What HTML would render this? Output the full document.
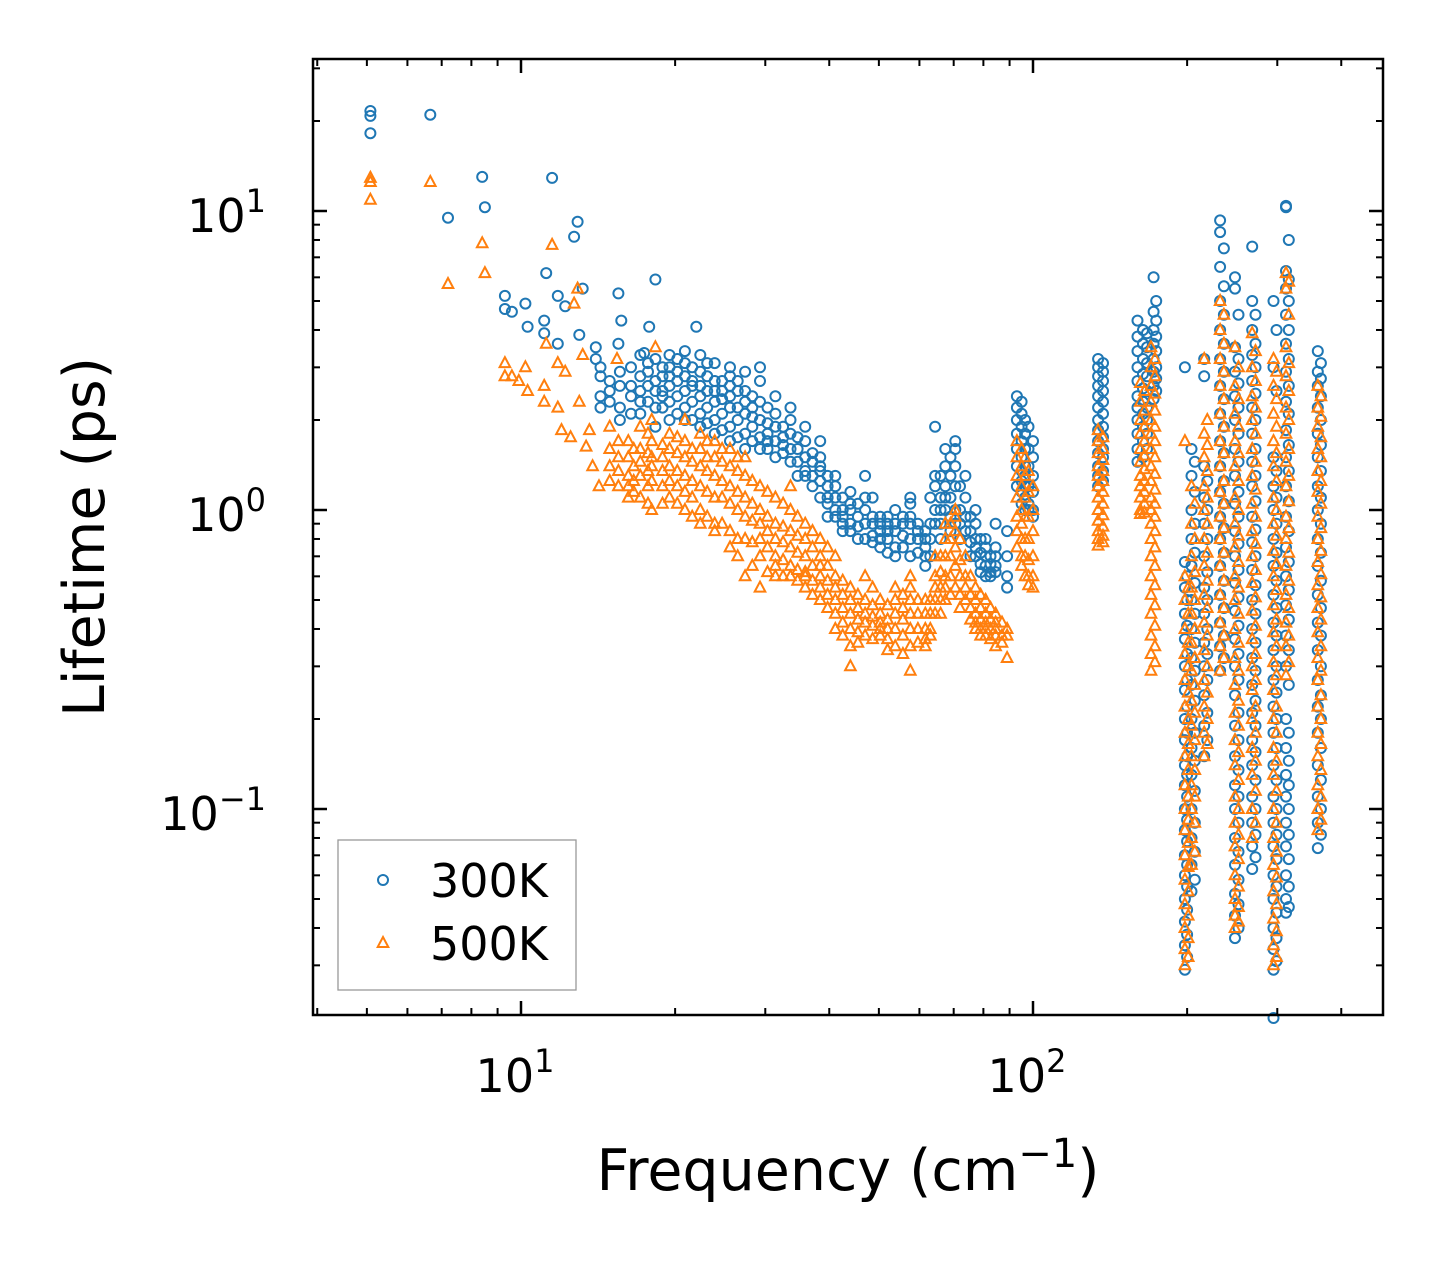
<!DOCTYPE html>
<html><head><meta charset="utf-8">
<style>
html,body{margin:0;padding:0;background:#fff;}
svg{display:block;font-family:"DejaVu Sans","Liberation Sans",sans-serif;}
</style></head>
<body>
<svg id="chart" width="1442" height="1265" viewBox="0 0 1442 1265" xmlns="http://www.w3.org/2000/svg">
<rect x="0" y="0" width="1442" height="1265" fill="#fff"/>
<g id="marks"></g>
<g id="ticks"></g>
<rect x="313" y="59" width="1070" height="956" fill="none" stroke="#000" stroke-width="2.5"/>
<g font-size="46">
<text x="515" y="1092" text-anchor="middle">10<tspan dy="-20" font-size="32">1</tspan></text>
<text x="1027" y="1092" text-anchor="middle">10<tspan dy="-20" font-size="32">2</tspan></text>
</g>
<g font-size="46">
<text x="266" y="232" text-anchor="end">10<tspan dy="-20" font-size="32">1</tspan></text>
<text x="266" y="531" text-anchor="end">10<tspan dy="-20" font-size="32">0</tspan></text>
<text x="266" y="830" text-anchor="end">10<tspan dy="-20" font-size="32">−1</tspan></text>
</g>
<text x="848" y="1190" text-anchor="middle" font-size="57">Frequency (cm<tspan dy="-23" font-size="40">−1</tspan><tspan dy="23">)</tspan></text>
<text transform="translate(104,537) rotate(-90)" text-anchor="middle" font-size="57">Lifetime (ps)</text>
<g>
<rect x="338" y="840" width="238" height="150" fill="#fff" stroke="#999" stroke-width="1.3"/>
<g>
<circle cx="383" cy="880" r="5" fill="none" stroke="#1f77b4" stroke-width="2"/>
<text x="430" y="897" font-size="46">300K</text>
</g>
<g>
<polygon points="383,937 388.3,947 377.7,947" fill="none" stroke="#ff7f0e" stroke-width="2"/>
<text x="430" y="960" font-size="46">500K</text>
</g>
</g>
</svg>
<script>
const xMajorTicks = [10, 100];
const xMinorTicks = [4,5,6,7,8,9,20,30,40,50,60,70,80,90,200,300,400];
const yMajorTicks = [0.1, 1, 10];
const yMinorTicks = [0.03,0.04,0.05,0.06,0.07,0.08,0.09,0.2,0.3,0.4,0.5,0.6,0.7,0.8,0.9,2,3,4,5,6,7,8,9,20,30];

// 300K series: [frequency, [lifetimes...]]
const series300K = [
[5.08,[21.6,20.8,18.2]],[6.65,[21]],[7.2,[9.5]],[8.4,[13]],[8.5,[10.3]],[11.5,[12.9]],[12.9,[9.2]],[12.7,[8.2]],[11.2,[6.2]],
[9.3,[5.2,4.7]],[9.6,[4.6]],[10.2,[4.9]],[10.3,[4.1]],[11.1,[4.3,3.9]],[11.8,[5.2,3.6]],[12.2,[4.8]],[13.0,[3.85]],[13.2,[5.5]],[14.0,[3.5,3.2]],
[15.5,[5.3,3.6]],[15.7,[4.3]],[18.3,[5.9]],[22,[4.1]],[17.8,[4.1]],[17.4,[3.35]],
[14.3,[2.8,2.4,2.2,3.0]],[15.6,[2.6,2.2,2.0,2.9]],[17.1,[2.5,2.8,2.1,3.3,2.3]],[18.3,[2.7,3.2,2.2,2.5,1.9]],
[19.5,[2.6,3.0,2.3,3.3,2.0,2.8]],[20.9,[2.5,3.1,2.2,3.4,2.0,2.8]],[22.4,[2.4,2.9,2.1,3.3,2.6,1.9]],[23.9,[2.3,2.7,2.0,3.1,2.5,1.8]],
[25.6,[2.2,2.6,1.9,3.0,2.4,1.7,2.8]],[27.4,[2.1,2.5,1.8,2.9,2.3,1.6]],[29.3,[2.0,2.3,1.75,2.7,3.0,1.6]],[31.4,[1.9,2.1,1.7,2.4,1.5]],
[33.6,[1.8,2.0,1.6,1.45,2.2]],[35.9,[1.7,1.9,1.5,1.35,1.3]],[38.4,[1.5,1.7,1.35,1.25,1.4,1.1]],[41.1,[1.3,1.2,1.1,1.0,0.95]],
[44,[1.15,1.05,1.0,0.9,0.85]],[47,[1.1,1.0,0.9,0.8,1.3]],[50.3,[0.95,0.9,0.85,0.8,0.75]],[53.8,[0.9,1.0,0.85,0.75,0.7]],
[57.6,[0.95,1.05,0.9,0.8,0.7,1.1]],[61.6,[0.85,0.8,0.75,0.7,0.65]],[64.4,[1.2,1.0,0.9,1.9,1.3]],[67.4,[1.4,1.2,1.1,1.0,1.6]],
[70.5,[1.6,1.4,1.2,1.0,0.9,1.7]],[73.8,[1.3,1.1,0.95,0.85]],[77.2,[1.0,0.9,0.8,0.75,0.7]],[80.8,[0.8,0.75,0.7,0.65,0.6]],
[84.5,[0.7,0.65,0.62,0.75,0.9]],[89,[0.55,0.6,0.7,0.85]],[93,[2.4,2.2,2.0,1.8,1.6,1.4,1.2]],[96.5,[2.0,1.8,1.6,1.4,1.3,1.2,1.1,1.0]],
[100,[1.7,1.5,1.3,1.15,1.0,0.95]],
[14.9,[2.5,2.7,2.3]],[16.4,[2.4,2.6,3.0,2.1]],[17.7,[2.6,2.9,2.3,3.1]],[18.9,[2.5,2.8,2.2,3.0,2.4]],[20.2,[2.7,2.4,3.2,2.1,2.9]],
[21.6,[2.6,2.3,3.0,2.0,2.7]],[23.1,[2.5,2.2,2.8,1.95,3.1]],[24.7,[2.35,2.1,2.7,1.85,2.5]],[26.5,[2.2,2.0,2.5,1.75,2.7]],
[28.3,[2.05,1.9,2.4,1.7,2.2]],[30.3,[1.95,1.8,2.2,1.6,1.7]],[32.5,[1.75,1.9,1.55,1.65]],[34.7,[1.6,1.75,1.45,1.3]],
[37.1,[1.45,1.55,1.3,1.2]],[39.7,[1.2,1.3,1.1,1.05,0.95]],[42.5,[1.1,1.0,0.95,0.9,0.85]],[45.5,[1.05,0.95,0.88,0.8]],
[48.6,[0.95,0.9,0.82,0.78,1.1]],[52,[0.9,0.85,0.8,0.72,0.95]],[55.7,[0.95,0.9,0.82,0.75]],[59.6,[0.9,0.85,0.8,0.72]],
[63,[0.9,0.8,0.7,1.1]],[66,[1.3,1.1,1.0,0.9,0.8]],[69,[1.5,1.3,1.1,0.95,0.85]],[72,[1.2,1.0,0.9,0.8]],[75.5,[0.95,0.85,0.78,0.7]],
[79,[0.8,0.72,0.66,0.62]],[82.6,[0.7,0.66,0.62,0.6]],[95,[2.3,2.1,1.9,1.7,1.5,1.35,1.25,1.15,1.05]],[98,[1.9,1.6,1.4,1.2,1.05,1.0]],
[134,[3.2,3.0,2.8,2.6,2.4,2.2,2.0,1.85,1.7,1.55,1.4,1.3,1.2]],
[137,[3.1,2.9,2.7,2.5,2.3,2.1,1.9,1.75,1.6,1.5,1.35,1.25]],
[160,[4.3,3.8,3.4,3.0,2.7,2.4,2.2,2.0,1.8,1.6,1.45]],
[164,[4.0,3.6,3.2,2.85,2.55,2.3,2.1,1.9,1.7,1.5]],
[167,[3.9,3.5,3.1,2.8,2.5,2.2,2.0,1.8,1.6]],
[172,[6.0,4.6,4.0,3.6,3.2,2.9,2.6,2.35]],
[174,[5.0,4.3,3.8,3.4,3.0,2.75,2.5]],
[198,[3.0,0.67,0.55,0.45,0.37,0.3,0.25,0.2,0.17,0.14,0.12,0.1,0.085,0.07,0.06,0.05,0.042,0.035,0.029]],
[200,[0.6,0.5,0.41,0.33,0.27,0.22,0.18,0.15,0.13,0.11,0.092,0.078,0.065,0.055,0.046,0.038,0.032]],
[204,[1.6,1.3,1.0,0.8,0.65,0.5,0.4,0.32,0.26,0.2,0.16,0.13,0.1,0.08,0.065,0.053]],
[207,[1.45,1.15,0.9,0.72,0.57,0.45,0.36,0.29,0.23,0.18,0.145,0.115,0.09,0.072,0.058]],
[216,[3.2,2.8,1.4,1.1,0.9,0.7,0.55,0.45,0.36,0.3,0.24,0.19,0.15]],
[219,[1.25,1.0,0.8,0.62,0.5,0.4,0.33,0.27,0.21,0.17]],
[232,[9.3,8.5,6.5,5.0,4.0,3.2,2.6,2.1,1.7,1.4,1.15,0.95,0.8,0.65,0.52,0.42,0.35,0.29]],
[236,[7.5,5.6,4.5,3.6,2.9,2.35,1.9,1.55,1.25,1.05,0.87,0.72,0.58,0.47,0.38,0.32]],
[248,[6.0,5.5,3.5,2.9,2.4,2.0,1.6,1.3,1.05,0.85,0.7,0.57,0.46,0.37,0.3,0.24,0.19,0.15,0.12,0.1,0.08,0.065,0.052,0.044,0.037]],
[252,[4.5,3.2,2.65,2.2,1.8,1.45,1.15,0.95,0.77,0.63,0.51,0.41,0.33,0.27,0.21,0.17,0.135,0.11,0.09,0.072,0.058,0.048,0.04]],
[268,[7.6,5.0,4.0,3.3,2.7,2.2,1.8,1.45,1.2,0.95,0.78,0.63,0.5,0.4,0.32,0.26,0.21,0.17,0.14,0.11,0.09,0.075,0.063]],
[272,[4.5,3.6,3.0,2.45,2.0,1.6,1.3,1.07,0.86,0.7,0.56,0.45,0.36,0.29,0.23,0.19,0.155,0.125,0.1,0.082,0.069]],
[295,[5.0,3.0,1.5,1.2,1.0,0.8,0.65,0.52,0.42,0.34,0.27,0.22,0.18,0.14,0.11,0.09,0.075,0.06,0.05,0.04,0.034,0.029,0.02]],
[299,[4.0,2.5,1.35,1.1,0.9,0.72,0.58,0.47,0.38,0.3,0.245,0.2,0.16,0.125,0.1,0.082,0.068,0.055,0.045,0.037,0.031]],
[312,[10.4,10.3,6.3,5.5,4.5,3.6,2.9,2.3,1.85,1.5,1.2,0.95,0.75,0.6,0.48,0.38,0.3,0.2,0.16,0.13,0.11,0.09,0.075,0.06,0.05,0.045]],
[316,[8.0,5.9,5.0,4.0,3.2,2.6,2.1,1.65,1.35,1.07,0.85,0.67,0.54,0.43,0.34,0.26,0.18,0.145,0.12,0.1,0.082,0.068,0.055,0.047]],
[360,[3.4,2.9,2.6,2.2,1.8,1.5,1.2,1.0,0.8,0.65,0.52,0.42,0.34,0.27,0.22,0.18,0.14,0.11,0.09,0.074]],
[365,[3.1,2.75,2.4,2.0,1.65,1.35,1.1,0.9,0.72,0.58,0.47,0.38,0.3,0.24,0.2,0.16,0.125,0.1,0.082]]
];

// 500K series: [frequency, [lifetimes...]]
const series500K = [
[5.08,[12.9,12.5,10.9]],[6.65,[12.5]],[7.2,[5.7]],[8.4,[7.8]],[8.5,[6.2]],[11.5,[7.7]],
[9.3,[3.1,2.8]],[9.6,[2.8]],[9.9,[2.7]],[10.2,[3.0]],[10.3,[2.5]],[11.1,[2.6,2.3]],[11.2,[3.6]],[11.8,[3.1,2.2]],[12.2,[2.9]],
[12.9,[5.5]],[12.7,[4.9]],[12.0,[1.85]],[12.5,[1.75]],[13.0,[2.3]],[13.2,[3.3]],[13.6,[1.85]],[13.4,[1.63]],[13.8,[1.4]],[14.2,[1.2]],
[15.4,[3.2]],[18.3,[3.5]],[14.9,[1.6,1.4,1.25,1.9]],[16.2,[1.7,1.5,1.3,1.2,1.1]],[17.1,[1.6,1.45,1.3,1.9,1.1]],
[18.0,[1.5,1.4,1.7,1.25,2.0,1.0]],[19.5,[1.6,1.4,1.25,1.8,1.1]],[20.9,[1.5,1.3,1.7,1.15,1.0,2.0]],[22.4,[1.4,1.6,1.2,1.8,1.0,0.9]],
[23.9,[1.3,1.5,1.1,1.7,0.9,0.85]],[25.6,[1.2,1.4,1.05,1.6,0.85,0.75]],[27.4,[1.1,1.3,0.95,1.5,0.8,0.6]],[29.3,[1.0,1.2,0.9,0.8,0.7,0.55]],
[31.4,[0.9,1.1,0.8,0.7,0.65,0.6]],[33.6,[0.85,1.0,0.75,0.65,0.6,1.2]],[35.9,[0.8,0.9,0.7,0.62,0.55,0.6]],[38.4,[0.7,0.6,0.55,0.5,0.8,0.65]],
[41.1,[0.6,0.55,0.5,0.45,0.4,0.7]],[44,[0.55,0.5,0.45,0.4,0.35,0.3]],[47,[0.5,0.45,0.42,0.38,0.6]],[50.3,[0.45,0.42,0.4,0.38,0.5]],
[53.8,[0.5,0.45,0.4,0.35,0.55]],[57.6,[0.55,0.5,0.45,0.4,0.35,0.29,0.6]],[61.6,[0.45,0.4,0.37,0.35,0.5]],[64.4,[0.6,0.55,0.5,0.45,0.7]],
[67.4,[0.8,0.7,0.6,0.55,0.5,0.9]],[70.5,[0.95,0.85,0.75,0.65,0.55,1.0]],[73.8,[0.7,0.6,0.55,0.5]],[77.2,[0.55,0.5,0.45,0.42,0.4]],
[80.8,[0.5,0.45,0.42,0.38,0.4]],[84.5,[0.45,0.42,0.4,0.38,0.35]],[89,[0.4,0.32,0.38]],
[93,[1.7,1.5,1.3,1.1,0.95,0.85,0.75]],[96.5,[1.5,1.3,1.1,0.95,0.8,0.7,0.6]],[100,[1.2,1.0,0.85,0.7,0.6,0.55]],
[15.5,[1.5,1.35,1.2,1.7]],[16.6,[1.6,1.4,1.25,1.15]],[17.7,[1.55,1.35,1.2,1.8,1.05]],[18.9,[1.5,1.35,1.2,1.65,1.05]],
[20.2,[1.55,1.35,1.2,1.75,1.05]],[21.6,[1.45,1.25,1.6,1.1,0.95]],[23.1,[1.35,1.5,1.15,1.7,0.95]],[24.7,[1.25,1.45,1.1,1.6,0.9]],
[26.5,[1.15,1.35,1.0,1.5,0.8,0.7]],[28.3,[1.05,1.25,0.92,0.78,0.65]],[30.3,[0.95,1.15,0.85,0.75,0.62]],[32.5,[0.88,1.05,0.78,0.68,0.6]],
[34.7,[0.82,0.95,0.72,0.63,0.58]],[37.1,[0.75,0.85,0.65,0.58,0.52]],[39.7,[0.65,0.58,0.52,0.47,0.75]],[42.5,[0.58,0.52,0.47,0.42,0.38]],
[45.5,[0.52,0.47,0.43,0.39,0.36]],[48.6,[0.48,0.44,0.41,0.37,0.55]],[52,[0.48,0.43,0.4,0.37,0.34]],[55.7,[0.52,0.47,0.43,0.38,0.33]],
[59.6,[0.5,0.45,0.4,0.36]],[63,[0.5,0.45,0.4,0.38]],[66,[0.7,0.62,0.55,0.5,0.45]],[69,[0.9,0.8,0.7,0.6,0.52]],[72,[0.8,0.68,0.6,0.52,0.47]],
[75.5,[0.6,0.52,0.47,0.43]],[79,[0.52,0.47,0.43,0.4,0.38]],[82.6,[0.47,0.43,0.4,0.37]],[87,[0.42,0.38,0.36]],
[95,[1.6,1.4,1.2,1.0,0.9,0.8,0.7,0.65]],[98,[1.35,1.15,0.95,0.8,0.68,0.6,0.56]],
[134,[1.85,1.7,1.55,1.4,1.3,1.2,1.1,1.0,0.92,0.85,0.8,0.76]],
[137,[1.75,1.6,1.47,1.35,1.25,1.15,1.05,0.96,0.88,0.82,0.78]],
[162,[2.66,2.3,2.0,1.8,1.6,1.45,1.3,1.2,1.1,1.0,0.97]],
[165,[2.5,2.15,1.9,1.7,1.52,1.37,1.25,1.15,1.05,0.98]],
[170,[3.5,3.0,2.6,2.3,2.0,1.8,1.6,1.4,1.25,1.1,1.0,0.9,0.8,0.7,0.6,0.52,0.45,0.38,0.33,0.29]],
[173,[3.2,2.8,2.45,2.15,1.9,1.7,1.5,1.32,1.17,1.05,0.95,0.85,0.75,0.65,0.56,0.48,0.41,0.35,0.31]],
[198,[1.7,0.6,0.5,0.4,0.33,0.27,0.22,0.18,0.15,0.12,0.1,0.085,0.07,0.058,0.048,0.04,0.034,0.03]],
[201,[0.55,0.45,0.36,0.3,0.245,0.2,0.165,0.135,0.11,0.092,0.077,0.064,0.053,0.044,0.037,0.032]],
[204,[1.2,0.9,0.7,0.55,0.45,0.36,0.29,0.23,0.19,0.15,0.12,0.1,0.08,0.065]],
[207,[1.05,0.8,0.62,0.5,0.4,0.32,0.26,0.21,0.17,0.135,0.11,0.09,0.072]],
[216,[3.2,1.8,1.5,1.2,1.0,0.8,0.65,0.52,0.42,0.34,0.27,0.22,0.18,0.15]],
[219,[2.0,1.65,1.35,1.1,0.9,0.72,0.58,0.47,0.38,0.3,0.245,0.2,0.165]],
[232,[5.0,4.0,3.2,2.6,2.1,1.7,1.4,1.15,0.95,0.8,0.65,0.52,0.42,0.35,0.29]],
[236,[4.5,3.6,2.9,2.35,1.9,1.55,1.25,1.05,0.87,0.72,0.58,0.47,0.38,0.32]],
[248,[3.5,2.6,2.1,1.7,1.4,1.1,0.9,0.75,0.6,0.5,0.4,0.32,0.26,0.21,0.17,0.14,0.11,0.09,0.075,0.06,0.05,0.044,0.04]],
[252,[3.0,2.35,1.9,1.55,1.25,1.0,0.82,0.67,0.55,0.45,0.36,0.29,0.23,0.19,0.155,0.125,0.1,0.082,0.068,0.055,0.047,0.042]],
[268,[3.9,3.0,2.4,2.0,1.6,1.3,1.05,0.85,0.7,0.57,0.46,0.37,0.3,0.25,0.2,0.16,0.13,0.1,0.08]],
[272,[3.4,2.7,2.2,1.8,1.45,1.17,0.95,0.77,0.63,0.51,0.41,0.33,0.27,0.22,0.18,0.145,0.115,0.09]],
[295,[3.2,2.6,2.1,1.7,1.4,1.1,0.9,0.73,0.6,0.48,0.39,0.31,0.25,0.2,0.16,0.13,0.1,0.08,0.065,0.053,0.043,0.035,0.03]],
[299,[2.9,2.35,1.9,1.55,1.25,1.0,0.82,0.66,0.54,0.43,0.35,0.28,0.22,0.18,0.145,0.115,0.09,0.072,0.059,0.048,0.039,0.032]],
[312,[6.2,5.5,3.5,2.8,2.2,1.8,1.45,1.2,0.95,0.8,0.65,0.52,0.42,0.35,0.28]],
[316,[5.8,4.5,3.1,2.5,2.0,1.6,1.3,1.07,0.87,0.72,0.58,0.47,0.38,0.31]],
[360,[2.6,2.2,1.9,1.6,1.35,1.15,0.95,0.8,0.67,0.56,0.47,0.39,0.32,0.27,0.22,0.18,0.15,0.12,0.1,0.085]],
[365,[2.4,2.05,1.75,1.5,1.25,1.05,0.87,0.73,0.61,0.51,0.43,0.35,0.29,0.24,0.2,0.165,0.135,0.11,0.092]]
];

const NS = 'http://www.w3.org/2000/svg';
const X0 = 313, X1 = 1383, Y0 = 59, Y1 = 1015;
function xScale(f){ return 521 + (Math.log10(f) - 1) * 512; }
function yScale(t){ return 510 - Math.log10(t) * 299; }

const marks = document.getElementById('marks');
const ticks = document.getElementById('ticks');

function line(x1,y1,x2,y2,w){
  const l = document.createElementNS(NS,'line');
  l.setAttribute('x1',x1); l.setAttribute('y1',y1); l.setAttribute('x2',x2); l.setAttribute('y2',y2);
  l.setAttribute('stroke','#000'); l.setAttribute('stroke-width',w);
  
  
  ticks.appendChild(l);
}
xMajorTicks.forEach(v=>{ const x=xScale(v); line(x,Y1,x,Y1-14,2.5); line(x,Y0,x,Y0+14,2.5); });
xMinorTicks.forEach(v=>{ const x=xScale(v); if(x<X0||x>X1) return; line(x,Y1,x,Y1-7,2); line(x,Y0,x,Y0+7,2); });
yMajorTicks.forEach(v=>{ const y=yScale(v); line(X0,y,X0+14,y,2.5); line(X1,y,X1-14,y,2.5); });
yMinorTicks.forEach(v=>{ const y=yScale(v); if(y<Y0||y>Y1) return; line(X0,y,X0+7,y,2); line(X1,y,X1-7,y,2); });

const g300 = document.createElementNS(NS,'g');


marks.appendChild(g300);
series300K.forEach(([f,ts])=>{
  ts.forEach(t=>{
    const c = document.createElementNS(NS,'circle');
    c.setAttribute('cx', xScale(f).toFixed(1));
    c.setAttribute('cy', yScale(t).toFixed(1));
    c.setAttribute('r', 5);
    c.setAttribute('fill','none'); c.setAttribute('stroke','#1f77b4'); c.setAttribute('stroke-width',2);
    
    
    g300.appendChild(c);
  });
});
const g500 = document.createElementNS(NS,'g');


marks.appendChild(g500);
series500K.forEach(([f,ts])=>{
  ts.forEach(t=>{
    const x = xScale(f), y = yScale(t);
    const p = document.createElementNS(NS,'polygon');
    p.setAttribute('points', `${x.toFixed(1)},${(y-6).toFixed(1)} ${(x+5.3).toFixed(1)},${(y+4).toFixed(1)} ${(x-5.3).toFixed(1)},${(y+4).toFixed(1)}`);
    p.setAttribute('fill','none'); p.setAttribute('stroke','#ff7f0e'); p.setAttribute('stroke-width',2);
    
    
    g500.appendChild(p);
  });
});
</script>
</body></html>
